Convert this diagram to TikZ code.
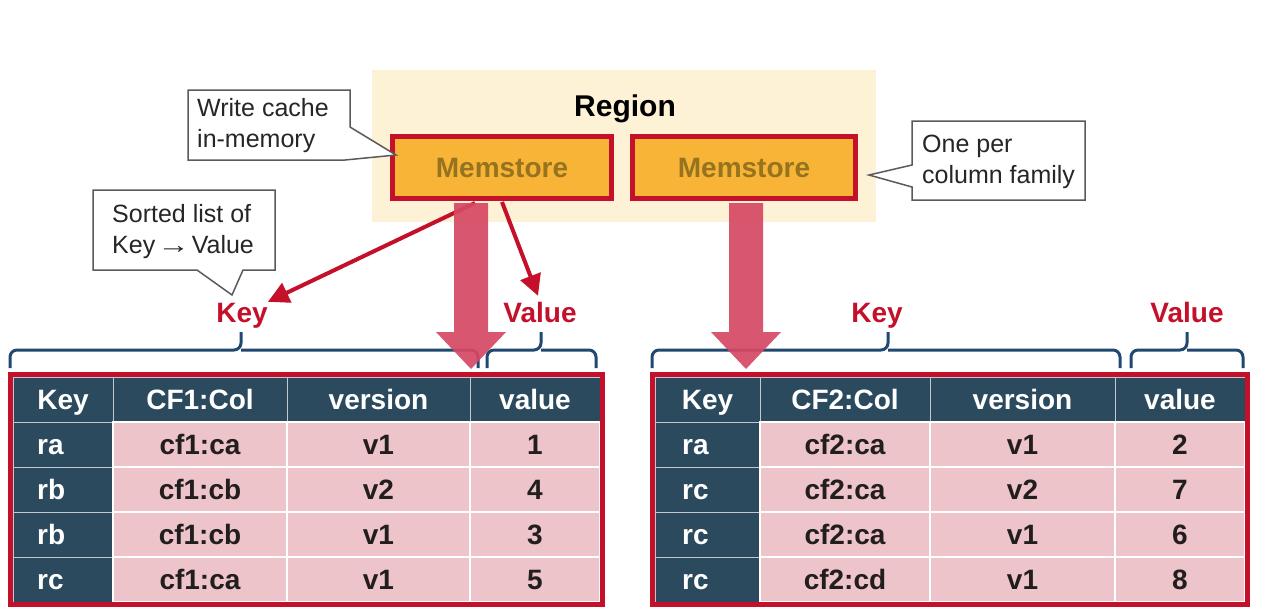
\documentclass[tikz,border=0pt]{standalone}
\usepackage{fontspec}
\setmainfont{Liberation Sans}
\usetikzlibrary{arrows.meta,calc}
\definecolor{regionbg}{RGB}{253,241,214}
\definecolor{memfill}{RGB}{248,180,54}
\definecolor{memtext}{RGB}{150,115,30}
\definecolor{hred}{RGB}{196,16,42}
\definecolor{bigred}{RGB}{214,72,100}
\definecolor{bracecol}{RGB}{32,72,112}
\definecolor{hdr}{RGB}{44,74,94}
\definecolor{cellpink}{RGB}{236,196,202}
\definecolor{calloutline}{RGB}{90,90,90}
\definecolor{datatext}{RGB}{35,30,30}
\tikzset{
  memstore/.style={draw=hred, line width=5pt, fill=memfill, inner sep=0pt,
    minimum height=62pt, text=memtext, font=\fontsize{28}{32}\selectfont\bfseries},
  callout/.style={draw=calloutline, fill=white, line width=1.5pt, line join=miter},
  callouttext/.style={align=left, inner sep=0pt, anchor=north west,
    font=\fontsize{25}{31}\selectfont, text=black!85},
  thinarrow/.style={draw=hred, line width=4pt, -{Triangle[length=21pt,width=21pt]}},
  bigarrow/.style={fill=bigred, fill opacity=0.92},
  bracestyle/.style={draw=bracecol, line width=3pt, rounded corners=7pt},
  lbl/.style={text=hred, font=\fontsize{28}{32}\selectfont\bfseries, inner sep=0pt,
    text height=20pt, text depth=0pt},
  tborder/.style={draw=hred, line width=5pt},
  hdrcell/.style={fill=hdr, draw=white!70!hdr, line width=1pt, minimum height=45pt, inner sep=0pt},
  datacell/.style={fill=cellpink, draw=white, line width=1.5pt, minimum height=45pt, inner sep=0pt,
    text=datatext, font=\fontsize{28}{32}\selectfont\bfseries, text height=20pt, text depth=0pt},
  hdrtext/.style={text=white, font=\fontsize{28}{32}\selectfont\bfseries, inner sep=0pt,
    text height=20pt, text depth=0pt},
}
\begin{document}
\begin{tikzpicture}[x=1pt,y=-1pt]
\useasboundingbox[fill=white] (0,0) rectangle (1266,614);

% Region background
\fill[regionbg] (372,70) rectangle (876,222);
\node[font=\fontsize{30}{34}\selectfont\bfseries, inner sep=0pt, text height=21.5pt, text depth=0pt] (region) at (625,106) {Region};

% Memstores
\node[memstore, minimum width=219pt] (m1) at (502,167.5) {Memstore};
\node[memstore, minimum width=223pt] (m2) at (744,167.5) {Memstore};

% Callouts
\draw[callout] (188,90) -- (350,90) -- (350,127) -- (396,155) -- (345,160) -- (188,160) -- cycle;
\node[callouttext] (c1) at (197,98.5) {Write cache\\in-memory};

\draw[callout] (912,121) -- (1085,121) -- (1085,200) -- (912,200) -- (912,187) -- (869,175) -- (912,165) -- cycle;
\node[callouttext] (c2) at (922,134.5) {One per\\column family};

\draw[callout] (93,190) -- (275,190) -- (275,270) -- (243,270) -- (232,295) -- (197,270) -- (93,270) -- cycle;
\node[callouttext] (c3) at (112,204.5) {Sorted list of\\Key\hspace{2pt}\scalebox{1.3}[1]{\textrightarrow}\hspace{2pt}Value};

% Labels
\node[lbl] (keyL) at (242,312) {Key};
\node[lbl] (valL) at (540,312) {Value};
\node[lbl] (keyR) at (877,312) {Key};
\node[lbl] (valR) at (1187,312) {Value};

% thin arrows
\draw[thinarrow] ([xshift=-27pt,yshift=-2pt]m1.south) -- ([xshift=0pt,yshift=0pt]keyL.north east);
\draw[thinarrow] ([yshift=-1pt]m1.south) -- ([xshift=-2pt,yshift=6pt]valL.north);

% braces
\draw[bracestyle] (10,368) -- (10,350) -- (241,350) -- (241,332);
\draw[bracestyle] (478,368) -- (478,350) -- (241,350);
\draw[bracestyle] (487,368) -- (487,350) -- (541,350) -- (541,332);
\draw[bracestyle] (596,368) -- (596,350) -- (541,350);
\draw[bracestyle] (652,368) -- (652,350) -- (888,350) -- (888,332);
\draw[bracestyle] (1120,368) -- (1120,350) -- (888,350);
\draw[bracestyle] (1131,368) -- (1131,350) -- (1187,350) -- (1187,332);
\draw[bracestyle] (1243,368) -- (1243,350) -- (1187,350);

% big arrows
\coordinate (b1) at (m1.south -| 471,0);
\coordinate (b2) at (m2.south -| 746,0);
\fill[bigarrow] ($(b1)+(-17,2)$) -- (454,332) -- (436,332) -- (471,369) -- (506,332) -- (488,332) -- ($(b1)+(17,2)$) -- cycle;
\fill[bigarrow] ($(b2)+(-17,2)$) -- (729,332) -- (711,332) -- (746,369) -- (781,332) -- (763,332) -- ($(b2)+(17,2)$) -- cycle;

% ---- Left table ----
\node[hdrcell, minimum width=100pt] (LhK) at (63,399.5) {};
\node[hdrcell, minimum width=174pt] (LhC) at (200,399.5) {};
\node[hdrcell, minimum width=183pt] (LhV) at (378.5,399.5) {};
\node[hdrcell, minimum width=130pt] (LhW) at (535,399.5) {};
\node[hdrtext] at (LhK) {Key};
\node[hdrtext] at (LhC) {CF1:Col};
\node[hdrtext] at (LhV) {version};
\node[hdrtext] at (LhW) {value};
\foreach \y/\k/\a/\b/\c [count=\i] in {444.5/ra/cf1:ca/v1/1, 489.5/rb/cf1:cb/v2/4, 534.5/rb/cf1:cb/v1/3, 579.5/rc/cf1:ca/v1/5}{
  \node[hdrcell, minimum width=100pt] (Lk\i) at (63,\y) {};
  \node[hdrtext, anchor=west] at (37,\y) {\k};
  \node[datacell, minimum width=174pt] (La\i) at (200,\y) {\a};
  \node[datacell, minimum width=183pt] (Lb\i) at (378.5,\y) {\b};
  \node[datacell, minimum width=130pt] (Lc\i) at (535,\y) {\c};
}
\draw[tborder] (10.5,374.5) rectangle (602.5,604.5);

% ---- Right table ----
\node[hdrcell, minimum width=105pt] (RhK) at (707.5,399.5) {};
\node[hdrcell, minimum width=170pt] (RhC) at (845,399.5) {};
\node[hdrcell, minimum width=185pt] (RhV) at (1022.5,399.5) {};
\node[hdrcell, minimum width=130pt] (RhW) at (1180,399.5) {};
\node[hdrtext] at (RhK) {Key};
\node[hdrtext] at (RhC) {CF2:Col};
\node[hdrtext] at (RhV) {version};
\node[hdrtext] at (RhW) {value};
\foreach \y/\k/\a/\b/\c [count=\i] in {444.5/ra/cf2:ca/v1/2, 489.5/rc/cf2:ca/v2/7, 534.5/rc/cf2:ca/v1/6, 579.5/rc/cf2:cd/v1/8}{
  \node[hdrcell, minimum width=105pt] (Rk\i) at (707.5,\y) {};
  \node[hdrtext, anchor=west] at (682,\y) {\k};
  \node[datacell, minimum width=170pt] (Ra\i) at (845,\y) {\a};
  \node[datacell, minimum width=185pt] (Rb\i) at (1022.5,\y) {\b};
  \node[datacell, minimum width=130pt] (Rc\i) at (1180,\y) {\c};
}
\draw[tborder] (652.5,374.5) rectangle (1247.5,604.5);
\end{tikzpicture}
\end{document}
